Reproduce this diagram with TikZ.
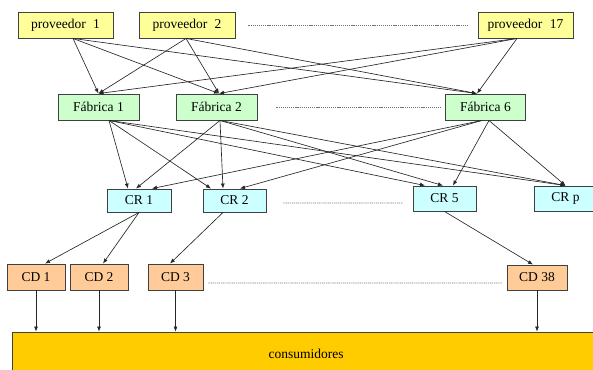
\documentclass[tikz,border=0pt]{standalone}
\usepackage{fontspec}
\setmainfont{Liberation Serif}
\usetikzlibrary{arrows.meta,calc}
\definecolor{provcol}{HTML}{FFFF99}
\definecolor{fabcol}{HTML}{CCFFCC}
\definecolor{crcol}{HTML}{CCFFFF}
\definecolor{cdcol}{HTML}{FFCC99}
\definecolor{concol}{HTML}{FFCC00}
\definecolor{edgecol}{HTML}{404040}
\begin{document}
\begin{tikzpicture}[x=1bp,y=-1bp,
  box/.style={draw=edgecol, line width=0.9bp, inner sep=0pt, text=black,
              font=\fontsize{13.5bp}{15bp}\selectfont},
  prov/.style={box, fill=provcol, minimum height=26bp},
  fab/.style={box, fill=fabcol, minimum height=26bp},
  crbox/.style={box, fill=crcol},
  cdbox/.style={box, fill=cdcol, minimum height=26bp},
  arr/.style={-{Latex[length=5bp,width=4bp]}, line width=0.65bp, draw=black!85},
  dots/.style={draw=black!55, line width=0.7bp, dash pattern=on 1.2bp off 0.9bp}]
\useasboundingbox (0,0) rectangle (593,369);

% nodes
\node[prov, minimum width=95bp] (p1) at (65.5,25) {proveedor\hspace{0.3em} 1};
\node[prov, minimum width=96bp] (p2) at (187,25) {proveedor\hspace{0.3em} 2};
\node[prov, minimum width=95bp] (p17) at (525.5,25) {proveedor\hspace{0.3em} 17};

\node[fab, minimum width=81bp] (f1) at (98.5,107) {Fábrica 1};
\node[fab, minimum width=81bp] (f2) at (216.5,107) {Fábrica 2};
\node[fab, minimum width=80bp] (f6) at (485.5,107) {Fábrica 6};

\node[crbox, minimum width=64bp, minimum height=23bp] (cr1) at (139,200.5) {CR 1};
\node[crbox, minimum width=63bp, minimum height=23bp] (cr2) at (234.5,200.5) {CR 2};
\node[crbox, minimum width=63bp, minimum height=25bp] (cr5) at (444.5,198.5) {CR 5};
\node[crbox, minimum width=63bp, minimum height=25bp] (crp) at (565.5,198.5) {CR p};

\node[cdbox, minimum width=58bp] (cd1) at (36,277) {CD 1};
\node[cdbox, minimum width=58bp] (cd2) at (99,277) {CD 2};
\node[cdbox, minimum width=55bp] (cd3) at (175.5,277) {CD 3};
\node[cdbox, minimum width=60bp, minimum height=25bp] (cd38) at (537,277.5) {CD 38};

\node[box, fill=concol, minimum width=588bp, minimum height=44bp] (cons) at (306,354) {consumidores};

% supplier -> factory
\coordinate (p1o) at ([xshift=7.5bp]p1.south);
\coordinate (p2o) at ([xshift=-1bp]p2.south);
\coordinate (p17o) at ([xshift=-8.5bp]p17.south);
\coordinate (f1i) at (f1.north);
\coordinate (f2i) at ([xshift=2.5bp]f2.north);
\coordinate (f6i) at ([xshift=-8.5bp]f6.north);
\foreach \s in {p1o,p2o,p17o}{
  \foreach \t in {f1i,f2i,f6i}{
    \draw[arr] (\s) -- (\t);
  }
}

% factory -> CR
\coordinate (f1o) at ([xshift=10.5bp]f1.south);
\coordinate (f2o) at ([xshift=3.5bp]f2.south);
\coordinate (f6l) at ([xshift=-3.5bp]f6.south);
\coordinate (f6r) at ([xshift=3.5bp]f6.south);

\draw[arr] (f1o) -- ([xshift=-11bp]cr1.north);
\draw[arr] (f1o) -- ([xshift=-23.5bp]cr2.north);
\draw[arr] (f1o) -- ([xshift=-19.5bp]cr5.north);
\draw[arr] (f1o) -- (crp.north);

\draw[arr] (f2o) -- ([xshift=-3bp]cr1.north);
\draw[arr] (f2o) -- ([xshift=-11.5bp]cr2.north);
\draw[arr] (f2o) -- ([xshift=-1.5bp]cr5.north);
\draw[arr] (f2o) -- (crp.north);

\draw[arr] (f6l) -- ([xshift=13bp]cr1.north);
\draw[arr] (f6l) -- ([xshift=5.5bp]cr2.north);
\draw[arr] (f6r) -- ([xshift=8.5bp]cr5.north);
\draw[arr] (f6r) -- (crp.north);

% CR -> CD
\coordinate (cr2o) at ([xshift=-11.5bp]cr2.south);
\draw[arr] (cr1.south) -- ([xshift=9bp]cd1.north);
\draw[arr] (cr1.south) -- ([xshift=4bp]cd2.north);
\draw[arr] (cr2o) -- ([xshift=-5.5bp]cd3.north);
\draw[arr] (cr5.south) -- ([xshift=-4bp]cd38.north);

% CD -> consumidores
\foreach \c in {cd1,cd2,cd3,cd38}{
  \draw[arr] (\c.south) -- (\c.south |- cons.north);
}

% dotted continuation lines
\draw[dots] ([xshift=13bp]p2.east) -- ([xshift=-10bp]p17.west);
\draw[dots] ([xshift=19bp]f2.east) -- ([xshift=-4bp]f6.west);
\draw[dots] ([xshift=17bp,yshift=-2.5bp]cr2.east) -- ([xshift=-10bp,yshift=-4.5bp]cr5.west);
\draw[dots] ([xshift=5bp,yshift=-6bp]cd3.east) -- ([xshift=-5bp,yshift=-5.5bp]cd38.west);
\end{tikzpicture}
\end{document}
